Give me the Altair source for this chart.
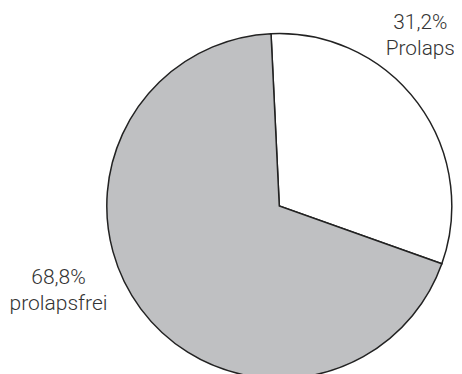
import math
import altair as alt
import pandas as pd

categories = ["Prolaps", "prolapsfrei"]
shares = [31.2, 68.8]
label_lines = [["31,2%", "Prolaps"], ["68,8%", "prolapsfrei"]]
fills = ["#ffffff", "#bfc0c2"]

df = pd.DataFrame({"category": categories, "share": shares, "order": [0, 1]})

start = math.radians(-2.75)

pie = alt.Chart(df).mark_arc(radius=172.5, stroke="#222222", strokeWidth=1.5).encode(
    theta=alt.Theta("share:Q", stack=True, scale=alt.Scale(range=[start, start + 2 * math.pi])),
    order=alt.Order("order:Q"),
    color=alt.Color("category:N", scale=alt.Scale(domain=categories, range=fills), legend=None),
    x=alt.value(271.3),
    y=alt.value(198),
)

def label(lines, x, y, size):
    return alt.Chart(pd.DataFrame({"t": [lines]})).mark_text(
        font="Roboto", fontWeight=300, fontSize=size, color="#333333",
        align="center", baseline="alphabetic", lineHeight=26,
    ).encode(text="t", x=alt.value(x), y=alt.value(y))

chart = alt.layer(
    pie,
    label(label_lines[0], 412.3, 21, 20.8),
    label(label_lines[1], 50.5, 276.3, 21),
).properties(
    width=446, height=366, autosize=alt.AutoSizeParams(type="none"), padding=0
).configure_view(stroke=None)

chart.save("out.html", embed_options={"renderer": "svg", "actions": False})
